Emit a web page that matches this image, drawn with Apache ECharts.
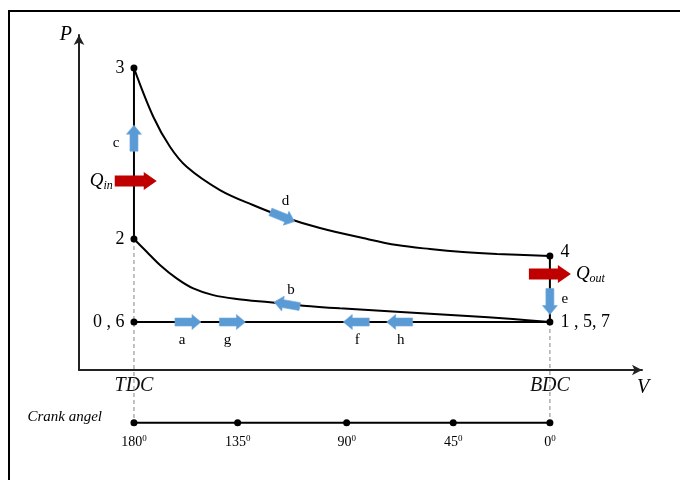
<!DOCTYPE html>
<html>
<head>
<meta charset="utf-8">
<script src="https://cdn.jsdelivr.net/npm/echarts@6.0.0/dist/echarts.min.js"></script>
<style>
    body { margin: 0; background: #fff; overflow: hidden; }
    #frame { position: absolute; left: 8px; top: 10px; width: 672px; height: 470px; border-top: 2px solid #000; border-left: 2px solid #000; }
    #main { position: absolute; left: 0; top: 0; width: 680px; height: 480px; }
</style>
</head>
<body>
<div id="frame"></div>
<div id="main"></div>
<script>
// V in clearance volumes (TDC = 1, BDC = 8), P in intake pressures
const stateNames = ['3', '2', '0 , 6', '4', '1 , 5, 7'];
const stateV = [1, 1, 1, 8, 8];
const stateP = [6.29, 2.73, 1, 2.375, 1];

// compression 1 -> 2
const compV = [1, 1.214, 1.437, 1.718, 1.998, 2.334, 2.728, 3.288, 3.849, 4.466, 5.42, 6.541, 7.377, 8];
const compP = [2.73, 2.465, 2.19, 1.91, 1.70, 1.56, 1.48, 1.41, 1.34, 1.285, 1.215, 1.131, 1.062, 1];

// expansion 3 -> 4
const expV = [1, 1.325, 1.606, 1.887, 2.447, 3.002, 3.507, 4.13, 4.853, 5.425, 5.981, 6.536, 7.108, 8];
const expP = [6.29, 5.277, 4.652, 4.235, 3.75, 3.4375, 3.194, 2.958, 2.75, 2.604, 2.521, 2.458, 2.417, 2.375];

// process arrows (direction in degrees, anticlockwise from +V)
const arrowNames = ['a', 'g', 'f', 'h', 'b', 'c', 'd', 'e'];
const arrowV = [1.909, 2.657, 4.741, 5.471, 3.574, 1, 3.499, 8];
const arrowP = [1, 1, 1, 1, 1.369, 4.83, 3.194, 1.427];
const arrowDir = [0, 0, 180, 180, 170, 90, -22, -90];

// heat in / out
const heatNames = ['in', 'out'];
const heatV = [1.03, 8];
const heatP = [3.94, 2.0];

// crank angle scale under the diagram
const crankV = [1, 2.745, 4.579, 6.373, 8];
const crankDeg = ['180', '135', '90', '45', '0'];
const crankP = -1.1;

const vTickValues = [1, 8];
const vTickLabels = ['TDC', 'BDC'];

const serif = 'Liberation Serif, Times New Roman, serif';
const zip = (xs, ys) => xs.map((x, i) => [x, ys[i]]);
const blueArrow = 'path://M0,3.5L17,3.5L17,0L26,7.5L17,15L17,11.5L0,11.5Z';
const redArrow = 'path://M0,3.5L29,3.5L29,0L42,9L29,18L29,14.5L0,14.5Z';
const letterOffset = { a: [-6, 18], g: [-5, 18], f: [1, 18], h: [1, 18], b: [4, -14], c: [-18, 5], d: [3, -16], e: [15, -2] };

const chart = echarts.init(document.getElementById('main'));

const blackLine = { color: '#000', width: 2 };
const dashed = { color: '#9a9a9a', width: 1.2, type: [4, 3] };

const option = {
    animation: false,
    grid: [
        { left: 79, top: 35, width: 563, height: 335 },
        { left: 79, top: 35, width: 563, height: 417 }
    ],
    xAxis: [
        {
            type: 'value', gridIndex: 0, min: 0.075, max: 9.55,
            name: 'V', nameLocation: 'end', nameGap: -5,
            nameTextStyle: { fontFamily: serif, fontStyle: 'italic', fontSize: 20, color: '#000', align: 'left', verticalAlign: 'top', padding: [8, 0, 0, 0] },
            axisLine: { symbol: ['none', 'arrow'], symbolSize: [8, 10], lineStyle: { color: '#222', width: 2 } },
            axisTick: { show: false },
            splitLine: { show: false },
            axisLabel: {
                customValues: vTickValues,
                formatter: v => vTickLabels[vTickValues.indexOf(v)],
                fontFamily: serif, fontStyle: 'italic', fontSize: 20, color: '#111', margin: 6
            }
        },
        { type: 'value', gridIndex: 1, min: 0.075, max: 9.55, show: false }
    ],
    yAxis: [
        {
            type: 'value', gridIndex: 0, min: 0, max: 6.98,
            name: 'P', nameLocation: 'end', nameGap: 0,
            nameTextStyle: { fontFamily: serif, fontStyle: 'italic', fontSize: 20, color: '#000', align: 'right', verticalAlign: 'middle', padding: [0, 7, 0, 0] },
            axisLine: { symbol: ['none', 'arrow'], symbolSize: [8, 10], lineStyle: { color: '#222', width: 2 } },
            axisTick: { show: false },
            splitLine: { show: false },
            axisLabel: { show: false }
        },
        { type: 'value', gridIndex: 1, min: -1.708, max: 6.98, show: false }
    ],
    series: [
        {
            type: 'line', xAxisIndex: 1, yAxisIndex: 1, symbol: 'none', silent: true,
            lineStyle: dashed, data: [[stateV[1], stateP[1]], [stateV[1], crankP]]
        },
        {
            type: 'line', xAxisIndex: 1, yAxisIndex: 1, symbol: 'none', silent: true,
            lineStyle: dashed, data: [[stateV[4], stateP[4]], [stateV[4], crankP]]
        },
        {
            type: 'line', xAxisIndex: 1, yAxisIndex: 1, symbol: 'none', smooth: 0.35,
            lineStyle: blackLine, data: zip(compV, compP)
        },
        {
            type: 'line', xAxisIndex: 1, yAxisIndex: 1, symbol: 'none', smooth: 0.35,
            lineStyle: blackLine, data: zip(expV, expP)
        },
        {
            // intake / exhaust 0-1 and 5-6, heat addition 2-3, blowdown 4-1
            type: 'line', xAxisIndex: 1, yAxisIndex: 1, symbol: 'none',
            lineStyle: blackLine, data: [[stateV[2], stateP[2]], [stateV[4], stateP[4]]]
        },
        {
            type: 'line', xAxisIndex: 1, yAxisIndex: 1, symbol: 'none',
            lineStyle: blackLine, data: [[stateV[1], stateP[1]], [stateV[0], stateP[0]]]
        },
        {
            type: 'line', xAxisIndex: 1, yAxisIndex: 1, symbol: 'none',
            lineStyle: blackLine, data: [[stateV[3], stateP[3]], [stateV[4], stateP[4]]]
        },
        {
            type: 'scatter', xAxisIndex: 1, yAxisIndex: 1, z: 5,
            symbol: blueArrow, symbolSize: [26, 15],
            itemStyle: { color: '#5B9BD5', borderColor: '#6FA8DC', borderWidth: 0.6, opacity: 1 },
            data: arrowNames.map((n, i) => ({
                name: n, value: [arrowV[i], arrowP[i]], symbolRotate: arrowDir[i],
                label: { offset: letterOffset[n] }
            })),
            label: {
                show: true, position: 'inside', formatter: '{b}', opacity: 1,
                fontFamily: serif, fontSize: 15, color: '#000'
            }
        },
        {
            type: 'scatter', xAxisIndex: 1, yAxisIndex: 1, z: 5,
            symbol: redArrow, symbolSize: [42, 18],
            itemStyle: { color: '#C00000', opacity: 1 },
            data: heatNames.map((n, i) => ({
                name: n, value: [heatV[i], heatP[i]],
                label: { position: i === 0 ? 'left' : 'right', distance: i === 0 ? 2 : 5 }
            })),
            label: {
                show: true, opacity: 1,
                formatter: '{q|Q}{s|{b}}',
                rich: {
                    q: { fontFamily: serif, fontStyle: 'italic', fontSize: 19, color: '#000' },
                    s: { fontFamily: serif, fontStyle: 'italic', fontSize: 12, color: '#000', padding: [9, 0, 0, 0] }
                }
            }
        },
        {
            type: 'scatter', xAxisIndex: 1, yAxisIndex: 1, z: 6,
            symbol: 'circle', symbolSize: 7, itemStyle: { color: '#000', opacity: 1 },
            data: stateNames.map((n, i) => ({
                name: n, value: [stateV[i], stateP[i]],
                label: {
                    position: i < 3 ? 'left' : 'right',
                    distance: i < 3 ? 6 : 7,
                    offset: n === '4' ? [0, -4] : [0, 0]
                }
            })),
            label: { show: true, opacity: 1, formatter: '{b}', fontFamily: serif, fontSize: 18, color: '#000' }
        },
        {
            type: 'line', xAxisIndex: 1, yAxisIndex: 1, z: 6,
            symbol: 'circle', symbolSize: 7, clip: false,
            itemStyle: { color: '#000' }, lineStyle: blackLine,
            data: crankV.map(v => [v, crankP]),
            label: {
                show: true, position: 'bottom', distance: 8,
                formatter: p => '{n|' + crankDeg[p.dataIndex] + '}{s|0}',
                rich: {
                    n: { fontFamily: serif, fontSize: 14, color: '#000' },
                    s: { fontFamily: serif, fontSize: 9, color: '#000', padding: [0, 0, 7, 0] }
                }
            }
        },
        {
            type: 'scatter', xAxisIndex: 1, yAxisIndex: 1, symbolSize: 0, silent: true,
            itemStyle: { opacity: 1 },
            data: [[crankV[0], crankP]],
            label: {
                show: true, position: 'left', distance: 32, offset: [0, -6], opacity: 1,
                formatter: 'Crank angel',
                fontFamily: serif, fontStyle: 'italic', fontSize: 15, color: '#000'
            }
        }
    ]
};

chart.setOption(option);
</script>
</body>
</html>
